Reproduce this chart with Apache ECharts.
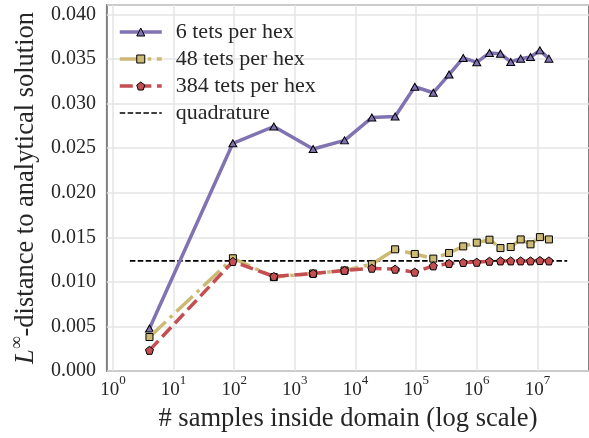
<!DOCTYPE html>
<html>
<head>
<meta charset="utf-8">
<script src="https://cdn.jsdelivr.net/npm/echarts@6/dist/echarts.min.js"></script>
<style>
  html, body { margin: 0; padding: 0; background: #ffffff; }
  #chart { width: 589px; height: 438px; }
</style>
</head>
<body>
<div id="chart"></div>
<script>
// Number of sample points inside the domain (x, log scale)
const samples = [4, 95, 450, 2000, 6600, 18600, 45000, 95000, 192000, 349000, 598000,
  1000000, 1620000, 2460000, 3630000, 5300000, 7700000, 11000000, 15500000];

// L-infinity distance to the analytical solution, per mesh refinement
const err6 = [0.00477, 0.02554, 0.02743, 0.02490, 0.02587, 0.02843, 0.02855, 0.03189,
  0.03122, 0.03326, 0.03512, 0.03463, 0.03568, 0.03560, 0.03467, 0.03504, 0.03523,
  0.03597, 0.03504];
const err48 = [0.00381, 0.01265, 0.01053, 0.01094, 0.01128, 0.01198, 0.01365, 0.01313,
  0.01261, 0.01324, 0.01398, 0.01440, 0.01473, 0.01379, 0.01391, 0.01476, 0.01421,
  0.01502, 0.01476];
const err384 = [0.00232, 0.01228, 0.01061, 0.01094, 0.01128, 0.01153, 0.01142, 0.01109,
  0.01179, 0.01206, 0.01217, 0.01220, 0.01231, 0.01235, 0.01235, 0.01235, 0.01235,
  0.01239, 0.01235];

// Reference error of the quadrature, drawn as a horizontal line
const quadratureValue = 0.01235;
const quadratureSpan = [1.9, 31000000];

// Decade tick exponents on the x axis
const xTickExponents = [0, 1, 2, 3, 4, 5, 6, 7];

const seriesNames = ['6 tets per hex', '48 tets per hex', '384 tets per hex', 'quadrature'];

const FONT = 'Liberation Serif';
const TEXT = '#262626';

const toPoints = (xs, ys) => xs.map((x, i) => [Math.log10(x), ys[i]]);

// Pentagon marker
const PENTAGON = 'path://M0,-1L0.951,-0.309L0.588,0.809L-0.588,0.809L-0.951,-0.309Z';

const chart = echarts.init(document.getElementById('chart'), null, { renderer: 'canvas' });

chart.setOption({
  animation: false,
  backgroundColor: '#ffffff',
  grid: {
    left: 101, right: -3, top: 5, bottom: 64.5,
    show: true, borderColor: '#808080', borderWidth: 2, backgroundColor: 'transparent'
  },
  legend: {
    data: seriesNames,
    orient: 'vertical',
    left: 118, top: 21,
    itemWidth: 42, itemHeight: 10, itemGap: 5,
    padding: 0,
    textStyle: { fontFamily: FONT, fontSize: 22, color: TEXT, lineHeight: 22, padding: [0, 0, 0, 9] },
    lineStyle: { width: 'inherit' },
    itemStyle: { borderWidth: 1 }
  },
  xAxis: {
    type: 'value',
    min: -0.100, max: 7.851,
    axisLine: { show: false },
    axisTick: { show: false, customValues: xTickExponents },
    splitLine: { show: true, lineStyle: { color: '#e5e5e5', width: 1.5 } },
    axisLabel: {
      customValues: xTickExponents,
      margin: 3,
      formatter: v => '{b|10}{e|' + Math.round(v) + '}',
      rich: {
        b: { fontFamily: FONT, fontSize: 19, color: TEXT, verticalAlign: 'bottom', lineHeight: 26 },
        e: { fontFamily: FONT, fontSize: 13, color: TEXT, verticalAlign: 'top', lineHeight: 13 }
      }
    },
    name: '# samples inside domain (log scale)',
    nameLocation: 'middle',
    nameGap: 35,
    nameTextStyle: { fontFamily: FONT, fontSize: 26.5, color: TEXT }
  },
  yAxis: {
    type: 'value',
    min: 0, max: 0.04106, interval: 0.005,
    axisLine: { show: false },
    axisTick: { show: false },
    splitLine: { show: true, lineStyle: { color: '#e5e5e5', width: 1.5 } },
    axisLabel: {
      showMaxLabel: false,
      margin: 11,
      fontFamily: FONT, fontSize: 20, color: TEXT,
      formatter: v => v.toFixed(3)
    },
    name: '{i|L}{s|∞}{n|-distance to analytical solution}',
    nameLocation: 'middle',
    nameRotate: 90,
    nameGap: 64,
    nameTextStyle: {
      rich: {
        i: { fontFamily: FONT, fontSize: 26.5, fontStyle: 'italic', color: TEXT, verticalAlign: 'bottom', lineHeight: 32 },
        s: { fontFamily: FONT, fontSize: 18, color: TEXT, verticalAlign: 'top', lineHeight: 16 },
        n: { fontFamily: FONT, fontSize: 26.5, color: TEXT, verticalAlign: 'bottom', lineHeight: 32 }
      }
    }
  },
  series: [
    {
      name: 'quadrature',
      type: 'line',
      data: [[Math.log10(quadratureSpan[0]), quadratureValue], [Math.log10(quadratureSpan[1]), quadratureValue]],
      symbol: 'none',
      itemStyle: { color: 'rgba(0,0,0,0)', borderColor: 'rgba(0,0,0,0)' },
      lineStyle: { color: '#000000', width: 1.6, type: [5.5, 2.4] },
      z: 1
    },
    {
      name: '6 tets per hex',
      type: 'line',
      data: toPoints(samples, err6),
      symbol: 'triangle', symbolSize: [8, 7],
      itemStyle: { color: '#8172B2', borderColor: '#000000', borderWidth: 1 },
      lineStyle: { color: '#8172B2', width: 3.5 },
      z: 2
    },
    {
      name: '48 tets per hex',
      type: 'line',
      data: toPoints(samples, err48),
      symbol: 'rect', symbolSize: 7,
      itemStyle: { color: '#CCB974', borderColor: '#000000', borderWidth: 1 },
      lineStyle: { color: '#CCB974', width: 3.5, type: [22.4, 5.6, 3.5, 5.6] },
      z: 3
    },
    {
      name: '384 tets per hex',
      type: 'line',
      data: toPoints(samples, err384),
      symbol: PENTAGON, symbolSize: 8,
      itemStyle: { color: '#C44E52', borderColor: '#000000', borderWidth: 1 },
      lineStyle: { color: '#C44E52', width: 3.5, type: [13, 5.6] },
      z: 4
    }
  ]
});
</script>
</body>
</html>
